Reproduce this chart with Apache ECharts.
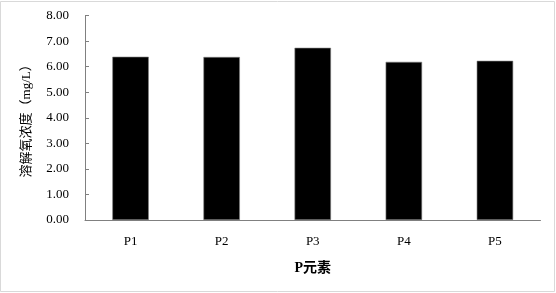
<!DOCTYPE html>
<html><head><meta charset="utf-8">
<script src="https://cdn.jsdelivr.net/npm/echarts@6/dist/echarts.min.js"></script>
<style>html,body{margin:0;padding:0;background:#fff}#c{width:556px;height:293px}</style>
</head><body><div id="c"></div>
<script>
const categories = ['P1','P2','P3','P4','P5'];
const values = [6.39, 6.38, 6.74, 6.19, 6.23];
const yTicks = {min: 0, max: 8, interval: 1};
const yName = '溶解氧浓度（mg/L）';
const xName = 'P元素';

const chart = echarts.init(document.getElementById('c'), null, {renderer: 'canvas'});
const serif = '"Liberation Serif", "Times New Roman", "Noto Sans CJK SC", serif';
chart.setOption({
  animation: false,
  backgroundColor: '#fff',
  graphic: [{type: 'rect', shape: {x: 0.5, y: 1.5, width: 554, height: 290}, style: {fill: 'none', stroke: '#d9d9d9', lineWidth: 1}}],
  grid: {left: 85, right: 15.5, top: 15.6, bottom: 73},
  xAxis: {
    type: 'category', data: categories,
    name: xName, nameLocation: 'middle', nameGap: 41,
    nameTextStyle: {fontFamily: serif, fontSize: 14, fontWeight: 'bold', color: '#000'},
    axisLine: {lineStyle: {color: '#808080', width: 1}},
    axisTick: {inside: true, length: 4, lineStyle: {color: '#808080'}},
    axisLabel: {fontFamily: serif, fontSize: 13, color: '#000', margin: 15}
  },
  yAxis: {
    type: 'value', min: yTicks.min, max: yTicks.max, interval: yTicks.interval,
    name: yName, nameLocation: 'middle', nameGap: 52, nameRotate: 90,
    nameTextStyle: {fontFamily: serif, fontSize: 13, color: '#000'},
    axisLine: {show: true, lineStyle: {color: '#808080', width: 1}},
    axisTick: {show: true, inside: true, length: 4, lineStyle: {color: '#808080'}},
    splitLine: {show: false},
    axisLabel: {fontFamily: serif, fontSize: 13, color: '#000', margin: 16, formatter: v => v.toFixed(2)}
  },
  series: [{
    type: 'bar', data: values, barWidth: '40%',
    itemStyle: {color: '#000', borderColor: '#7f7f7f', borderWidth: 0.6}
  }]
});
</script></body></html>
